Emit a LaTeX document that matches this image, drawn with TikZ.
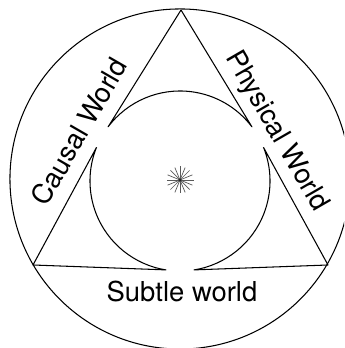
\documentclass[tikz,border=0pt]{standalone}
\usepackage{fontspec}
\setmainfont{TeX Gyre Heros}
\usetikzlibrary{calc}

\begin{document}
\begin{tikzpicture}[
  x=0.025cm, y=0.025cm,
  outline/.style={line width=0.75pt, draw=black, line join=round},
  world/.style={font=\fontsize{19.5}{22}\selectfont, inner sep=0pt},
  ray/.style={line width=0.5pt, draw=black!65},
]
\path[use as bounding box, clip] (0,0) rectangle (344,348);

\coordinate (mid)   at (180,169);
\coordinate (hub)   at (180,167);
\coordinate (apex)  at (181,338);
\coordinate (left)  at (33,83);
\coordinate (right) at (328,83);
\coordinate (al) at ($(hub)+(143:90)$);
\coordinate (cl) at ($(hub)+(158:90)$);
\coordinate (bl) at ($(hub)+(261:90)$);
\coordinate (br) at ($(hub)+(279:90)$);
\coordinate (cr) at ($(hub)+(22:90)$);
\coordinate (star) at (180,168);

% outer ring
\draw[outline] (mid) circle[radius=4.25cm];

% triangle with the round hole
\draw[outline] (apex) -- (al) arc[start angle=143, end angle=37, radius=2.25cm] -- cycle;
\draw[outline] (cl) -- (left) -- (bl) arc[start angle=261, end angle=158, radius=2.25cm];
\draw[outline] (cr) -- (right) -- (br) arc[start angle=279, end angle=382, radius=2.25cm];

\node[world, rotate=60]  (causal)   at (79,216.5)  {Causal World};
\node[world, rotate=-60] (physical) at (276,216.5) {Physical World};
\node[world, anchor=base] (subtle)  at (182,46.5)  {Subtle world};

% star in the middle
\foreach \a in {0,22.5,...,337.5}
  \draw[ray] (star) -- ++(\a:13.5);
\fill[black!85] (star) circle[radius=1.2pt];
\end{tikzpicture}
\end{document}
